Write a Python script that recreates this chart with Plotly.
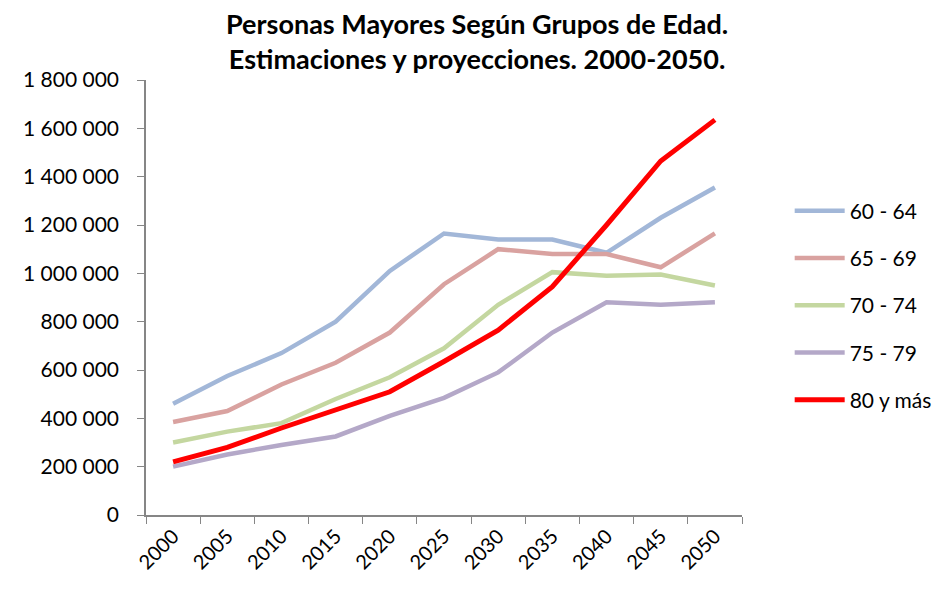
import plotly.graph_objects as go

years = ["2000", "2005", "2010", "2015", "2020", "2025", "2030", "2035", "2040", "2045", "2050"]
g60_64 = [460000, 575000, 670000, 800000, 1010000, 1165000, 1140000, 1140000, 1085000, 1230000, 1355000]
g65_69 = [385000, 430000, 540000, 630000, 755000, 955000, 1100000, 1080000, 1080000, 1025000, 1165000]
g70_74 = [300000, 345000, 380000, 480000, 570000, 690000, 870000, 1005000, 990000, 995000, 950000]
g75_79 = [200000, 250000, 290000, 325000, 410000, 485000, 590000, 755000, 880000, 870000, 880000]
g80 = [220000, 280000, 360000, 435000, 510000, 635000, 765000, 945000, 1200000, 1465000, 1635000]

series = [
    ("60 - 64", g60_64, "#A2B7D8", 4.5),
    ("65 - 69", g65_69, "#D9A2A0", 4.5),
    ("70 - 74", g70_74, "#C4D7A0", 4.5),
    ("75 - 79", g75_79, "#B4A8C8", 4.5),
    ("80 y más", g80, "#FF0000", 5),
]

font_family = "Lato, 'Open Sans', sans-serif"

fig = go.Figure()
for i, (name, vals, color, w) in enumerate(series):
    fig.add_trace(go.Scatter(
        x=years, y=vals, name=name, mode="lines",
        line=dict(color=color, width=w),
        legendgroup=f"g{i}",
    ))

fig.update_layout(
    width=934, height=584,
    paper_bgcolor="white", plot_bgcolor="white",
    margin=dict(l=138, r=200, t=72, b=77, autoexpand=False),
    separators=", ",
    font=dict(family=font_family, size=20, color="black"),
    legend=dict(
        x=1.08, xanchor="left", y=0.5 - 8 / 435, yanchor="middle",
        font=dict(family=font_family, size=21),
        tracegroupgap=17, itemwidth=50,
        bgcolor="rgba(0,0,0,0)",
    ),
    showlegend=True,
    annotations=[dict(
        text="<b>Personas Mayores Según Grupos de Edad.<br>Estimaciones y proyecciones. 2000-2050.</b>",
        xref="paper", yref="paper", x=(477 - 146) / 596, y=1 + (80 - 5) / 435,
        xanchor="center", yanchor="top", showarrow=False, align="center",
        font=dict(family=font_family, size=27, color="black"),
    )],
)

fig.update_xaxes(
    type="category", tickson="boundaries", range=[-0.5, 10.5],
    showline=True, linecolor="#868686", linewidth=1.5,
    ticks="outside", ticklen=7, tickcolor="#868686",
    tickangle=-45, showgrid=False, zeroline=False, automargin=False,
    tickfont=dict(family=font_family, size=20),
)
fig.update_yaxes(
    range=[0, 1800000], dtick=200000, tickformat=",d",
    showline=True, linecolor="#868686", linewidth=1.5,
    ticks="outside", ticklen=7, tickcolor="#868686",
    showgrid=False, zeroline=False, automargin=False,
    ticklabelstandoff=14,
    tickfont=dict(family=font_family, size=21),
)

fig.write_html("out.html")
